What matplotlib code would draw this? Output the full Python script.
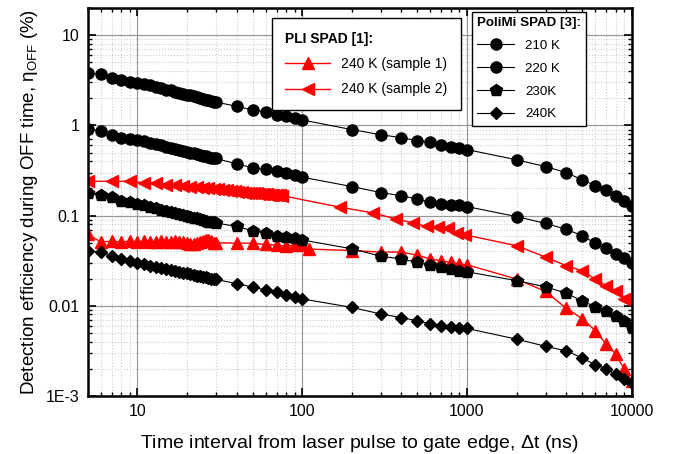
import matplotlib
matplotlib.use("Agg")
import matplotlib.pyplot as plt
from matplotlib.ticker import FixedLocator, FixedFormatter, LogLocator, NullFormatter

plt.rcParams["font.family"] = ["Liberation Sans", "DejaVu Sans"]
plt.rcParams["mathtext.fontset"] = "custom"
plt.rcParams["mathtext.rm"] = "Liberation Sans"
plt.rcParams["mathtext.it"] = "Liberation Sans"

# time (ns) for PoliMi SPAD series
t_polimi = [5, 6, 7, 8, 9, 10, 11, 12, 13, 14, 15, 16, 17, 18, 19, 20,
            21, 22, 23, 24, 25, 26, 27, 28, 29, 30,
            40, 50, 60, 70, 80, 90, 100,
            200, 300, 400, 500, 600, 700, 800, 900, 1000,
            2000, 3000, 4000, 5000, 6000, 7000, 8000, 9000, 10000]

eta_210K = [3.8, 3.7, 3.4, 3.2, 3.05, 2.98, 2.9, 2.8, 2.7, 2.6, 2.5, 2.45, 2.38, 2.3, 2.25, 2.2,
            2.15, 2.1, 2.05, 2.0, 1.97, 1.93, 1.9, 1.87, 1.84, 1.82,
            1.63, 1.49, 1.41, 1.32, 1.27, 1.21, 1.15,
            0.90, 0.79, 0.73, 0.68, 0.65, 0.61, 0.58, 0.565, 0.54,
            0.416, 0.35, 0.30, 0.25, 0.215, 0.19, 0.163, 0.145, 0.129]

eta_220K = [0.92, 0.86, 0.78, 0.73, 0.71, 0.69, 0.67, 0.645, 0.62, 0.60, 0.58, 0.565, 0.55, 0.535, 0.52, 0.51,
            0.50, 0.49, 0.48, 0.47, 0.46, 0.455, 0.447, 0.44, 0.435, 0.43,
            0.375, 0.34, 0.325, 0.31, 0.295, 0.28, 0.267,
            0.21, 0.18, 0.166, 0.153, 0.14, 0.135, 0.132, 0.13, 0.126,
            0.0975, 0.082, 0.0705, 0.06, 0.0494, 0.0432, 0.0377, 0.034, 0.0295]

eta_230K = [0.177, 0.17, 0.16, 0.147, 0.141, 0.135, 0.130, 0.124, 0.12, 0.116, 0.112, 0.109, 0.106, 0.103, 0.101, 0.099,
            0.096, 0.094, 0.093, 0.091, 0.089, 0.088, 0.086, 0.085, 0.084, 0.083,
            0.0757, 0.068, 0.064, 0.06, 0.058, 0.056, 0.0537,
            0.0428, 0.0355, 0.033, 0.0302, 0.028, 0.027, 0.0255, 0.0245, 0.0238,
            0.019, 0.0162, 0.0138, 0.0113, 0.0098, 0.0088, 0.0077, 0.0067, 0.0058]

eta_240K = [0.041, 0.039, 0.0353, 0.033, 0.0316, 0.030, 0.0289, 0.0279, 0.027, 0.0263, 0.0256, 0.0249, 0.0243, 0.0238, 0.0233, 0.0228,
            0.0224, 0.022, 0.0216, 0.0212, 0.0209, 0.0206, 0.0203, 0.02, 0.0198, 0.0196,
            0.0176, 0.0161, 0.015, 0.0141, 0.013, 0.0125, 0.0119,
            0.0096, 0.0081, 0.0074, 0.0068, 0.0063, 0.006, 0.0058, 0.0057, 0.0056,
            0.00426, 0.00355, 0.00316, 0.00264, 0.00221, 0.002, 0.00173, 0.00155, 0.00138]

# PLI SPAD, sample 1
t_pli1 = [5, 6, 7, 8, 9, 10, 11, 12, 13, 14, 15, 16, 17, 18, 19, 20,
          21, 22, 23, 24, 25, 26, 27, 28, 29, 30,
          40, 50, 60, 70, 80, 90, 100, 110,
          200, 300, 400, 500, 600, 700, 800, 900, 1000,
          2000, 3000, 4000, 5000, 6000, 7000, 8000, 9000, 10000]
eta_pli1 = [0.062, 0.051, 0.052, 0.051, 0.052, 0.051, 0.052, 0.051, 0.051, 0.052, 0.051, 0.051, 0.052, 0.051, 0.051, 0.05,
            0.049, 0.048, 0.05, 0.051, 0.052, 0.053, 0.054, 0.052, 0.05, 0.05,
            0.0494, 0.0494, 0.0478, 0.047, 0.0457, 0.047, 0.047, 0.0425,
            0.041, 0.0394, 0.0394, 0.0364, 0.033, 0.0316, 0.0302, 0.029, 0.0285,
            0.0198, 0.0144, 0.0094, 0.0072, 0.0053, 0.00375, 0.0029, 0.00198, 0.00147]

# PLI SPAD, sample 2
t_pli2 = [5, 7, 9, 11, 13, 15, 17, 19, 21, 23, 25, 27, 29, 31, 33, 35, 37, 39,
          41, 43, 45, 47, 49, 51, 53, 55, 57, 59, 61, 63, 65, 67, 69, 71, 73, 75,
          170, 270, 370, 470, 570, 670, 770, 870, 970,
          2000, 3000, 4000, 5000, 6000, 7000, 8000, 9000, 10000]
eta_pli2 = [0.24, 0.24, 0.24, 0.23, 0.23, 0.22, 0.22, 0.215, 0.21, 0.207, 0.203, 0.2, 0.197, 0.195, 0.192, 0.19, 0.188, 0.186,
            0.184, 0.182, 0.18, 0.179, 0.178, 0.177, 0.176, 0.175, 0.174, 0.173, 0.172, 0.171, 0.17, 0.17, 0.169, 0.168, 0.168, 0.167,
            0.124, 0.107, 0.0918, 0.083, 0.0757, 0.0745, 0.0733, 0.064, 0.0612,
            0.0464, 0.0347, 0.0278, 0.0245, 0.0198, 0.0167, 0.0147, 0.012, 0.0113]

fig = plt.figure(figsize=(6.8, 4.54), dpi=100)
ax = fig.add_axes([0.129, 0.128, 0.8, 0.854])

ax.set_xscale("log")
ax.set_yscale("log")
ax.set_xlim(5, 10000)
ax.set_ylim(1e-3, 20)

ax.grid(True, which="major", color="#999999", linestyle="-", linewidth=0.9, zorder=0)
ax.grid(True, which="minor", color="#cccccc", linestyle=":", linewidth=0.8, zorder=0)
ax.set_axisbelow(True)

l1, = ax.plot(t_pli1, eta_pli1, color="red", marker="^", markersize=8.5, linewidth=1, label="240 K (sample 1)")
l2, = ax.plot(t_pli2, eta_pli2, color="red", marker="<", markersize=8.5, linewidth=1, label="240 K (sample 2)")
b1, = ax.plot(t_polimi, eta_210K, color="black", marker="o", markersize=8, linewidth=0.8, label="210 K")
b2, = ax.plot(t_polimi, eta_220K, color="black", marker="o", markersize=8, linewidth=0.8, label="220 K")
b3, = ax.plot(t_polimi, eta_230K, color="black", marker="p", markersize=9, linewidth=0.8, label="230K")
b4, = ax.plot(t_polimi, eta_240K, color="black", marker="D", markersize=6.5, linewidth=0.8, label="240K")

ax.yaxis.set_major_locator(FixedLocator([1e-3, 1e-2, 1e-1, 1, 10]))
ax.yaxis.set_major_formatter(FixedFormatter(["1E-3", "0.01", "0.1", "1", "10"]))
ax.yaxis.set_minor_locator(LogLocator(base=10, subs=range(2, 10), numticks=20))
ax.yaxis.set_minor_formatter(NullFormatter())
ax.xaxis.set_major_locator(FixedLocator([10, 100, 1000, 10000]))
ax.xaxis.set_major_formatter(FixedFormatter(["10", "100", "1000", "10000"]))
ax.xaxis.set_minor_locator(LogLocator(base=10, subs=range(2, 10), numticks=20))
ax.xaxis.set_minor_formatter(NullFormatter())

ax.tick_params(which="both", direction="in", top=True, right=True, labelsize=11.5)
ax.tick_params(which="major", length=6, width=1.2, pad=6)
ax.tick_params(which="minor", length=3, width=1)
for s in ax.spines.values():
    s.set_linewidth(1.8)

ax.set_xlabel("Time interval from laser pulse to gate edge, $\\Delta$t (ns)", fontsize=14, labelpad=10)
ax.set_ylabel("Detection efficiency during OFF time, $\\eta_{\\mathrm{OFF}}$ (%)", fontsize=13.5)

leg1 = ax.legend(handles=[l1, l2], title="PLI SPAD [1]:", loc="upper left",
                 bbox_to_anchor=(0.338, 0.974), borderaxespad=0, fontsize=10, title_fontsize=10,
                 frameon=True, fancybox=False, edgecolor="black", framealpha=1,
                 handlelength=3.2, borderpad=1.0, labelspacing=0.8, alignment="left")
leg1.get_title().set_fontweight("bold")
leg1.get_frame().set_linewidth(1)
ax.add_artist(leg1)

leg2 = ax.legend(handles=[b1, b2, b3, b4], title="PoliMi SPAD [3]:", loc="upper left",
                 bbox_to_anchor=(0.706, 0.990), borderaxespad=0, fontsize=9.6, title_fontsize=9.6,
                 frameon=True, fancybox=False, edgecolor="black", framealpha=1,
                 handlelength=2.8, borderpad=0.4, labelspacing=0.78, alignment="left")
leg2.get_title().set_fontweight("bold")
leg2.get_frame().set_linewidth(1)

fig.savefig("out.png", dpi=100)
